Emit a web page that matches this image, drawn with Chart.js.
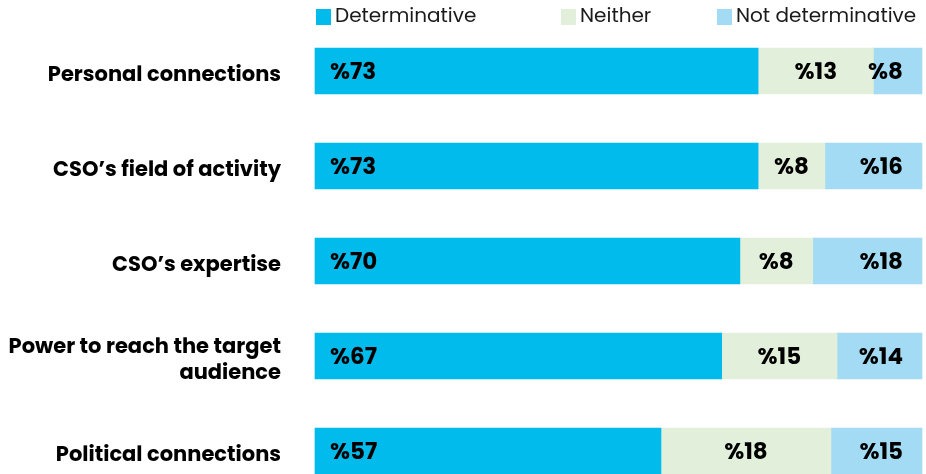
<!DOCTYPE html>
<html>
<head>
<meta charset="utf-8">
<script src="https://cdn.jsdelivr.net/npm/chart.js@4.4.1/dist/chart.umd.min.js"></script>
<style>
  html, body { margin: 0; padding: 0; background: #fff; }
  #wrap { position: relative; width: 926px; height: 474px; }
</style>
</head>
<body>
<div id="wrap"><canvas id="barChart" width="926" height="474"></canvas></div>
<script>
var categories = [
  'Personal connections',
  'CSO\u2019s field of activity',
  'CSO\u2019s expertise',
  ['Power to reach the target', 'audience'],
  'Political connections'
];
var seriesNames = ['Determinative', 'Neither', 'Not determinative'];

// bar lengths
var determinative = [73, 73, 70, 67, 57];
var neither = [19, 11, 12, 19, 28];
var notDeterminative = [8, 16, 18, 14, 15];

// the numbers printed on the bars
var determinativeText = [73, 73, 70, 67, 57];
var neitherText = [13, 8, 8, 15, 18];
var notDeterminativeText = [8, 16, 18, 14, 15];

var colors = ['#00BBEB', '#E2EFDA', '#A2DBF3'];
var fontName = 'Poppins, Inter, sans-serif';

var barLabels = {
  id: 'barLabels',
  afterDatasetsDraw(chart) {
    var ctx = chart.ctx;
    var texts = [determinativeText, neitherText, notDeterminativeText];
    ctx.save();
    ctx.font = 'bold 23px ' + fontName;
    ctx.fillStyle = '#000';
    ctx.textBaseline = 'middle';
    chart.data.datasets.forEach((ds, d) => {
      chart.getDatasetMeta(d).data.forEach((bar, i) => {
        var txt = '%' + texts[d][i];
        var y = bar.y + 2;
        if (d == 0) {
          ctx.textAlign = 'left';
          ctx.fillText(txt, bar.base + 15, y);
        } else if (d == 1) {
          ctx.textAlign = 'center';
          ctx.fillText(txt, (bar.base + bar.x) / 2, y);
        } else {
          ctx.textAlign = 'right';
          ctx.fillText(txt, bar.x - 19, y);
        }
      });
    });
    ctx.restore();
  }
};

var topLegend = {
  id: 'topLegend',
  afterDraw(chart) {
    var ctx = chart.ctx;
    var spots = [316, 561, 717];
    ctx.save();
    ctx.font = '20px ' + fontName;
    ctx.textBaseline = 'middle';
    ctx.textAlign = 'left';
    seriesNames.forEach((name, i) => {
      ctx.fillStyle = colors[i];
      ctx.fillRect(spots[i], 9, 15, 16);
      ctx.fillStyle = '#1a1a1a';
      ctx.fillText(name, spots[i] + 19, 17);
    });
    ctx.restore();
  }
};

var ctx = document.getElementById('barChart').getContext('2d');
var barChart = new Chart(ctx, {
  type: 'bar',
  data: {
    labels: categories,
    datasets: [
      { label: seriesNames[0], data: determinative, backgroundColor: colors[0] },
      { label: seriesNames[1], data: neither, backgroundColor: colors[1] },
      { label: seriesNames[2], data: notDeterminative, backgroundColor: colors[2] }
    ]
  },
  options: {
    indexAxis: 'y',
    responsive: false,
    animation: false,
    layout: { padding: { top: 71, bottom: 23, left: 0, right: 4 } },
    datasets: { bar: { barThickness: 46, clip: false, borderWidth: 0 } },
    plugins: { legend: { display: false }, tooltip: { enabled: false } },
    scales: {
      x: { stacked: true, min: 0, max: 100, display: false },
      y: {
        stacked: true,
        offset: false,
        grid: { display: false, drawTicks: false },
        border: { display: false },
        afterFit: s => {
          s.width = 315;
          s.paddingTop = 0;
          s.paddingBottom = 0;
        },
        ticks: {
          padding: 34,
          labelOffset: 5,
          color: '#000',
          font: { family: fontName, size: 21, weight: 'bold', lineHeight: 1.25 }
        }
      }
    }
  },
  plugins: [barLabels, topLegend]
});
</script>
</body>
</html>
